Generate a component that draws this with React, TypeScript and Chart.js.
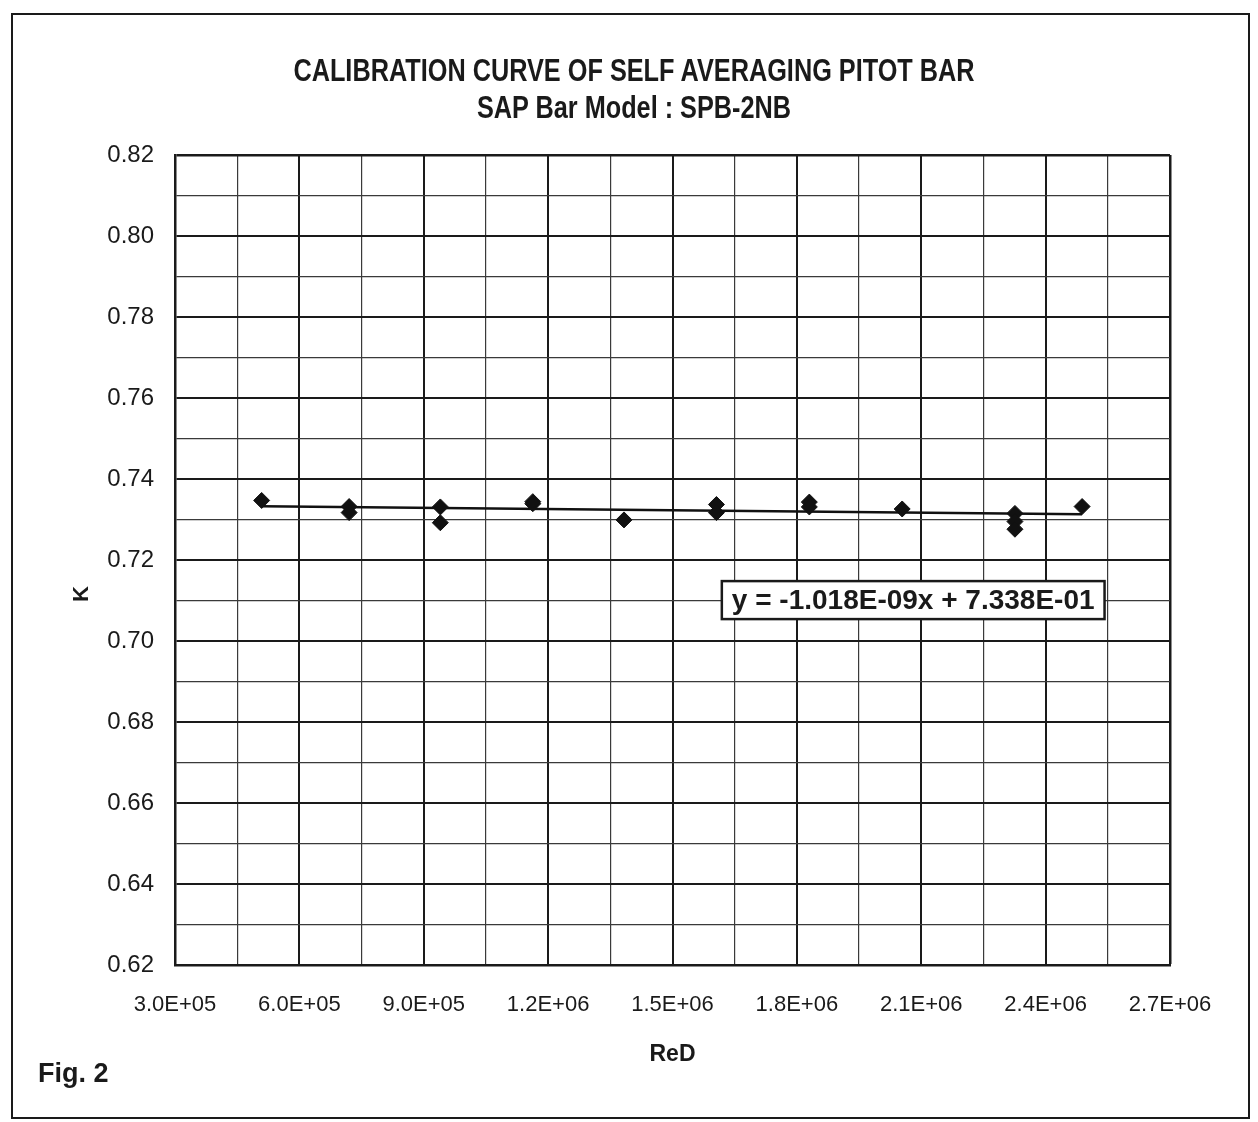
import React, { useEffect, useRef } from "react";
import { Chart, registerables } from "chart.js";

Chart.register(...registerables);

// ---- Data ----
const RED_VALUES = [
  5.09e5, 7.2e5, 7.2e5, 9.4e5, 9.4e5, 1.163e6, 1.163e6, 1.383e6, 1.606e6, 1.606e6,
  1.83e6, 1.83e6, 2.054e6, 2.326e6, 2.326e6, 2.326e6, 2.488e6,
];
const K_VALUES = [
  0.7347, 0.7332, 0.7317, 0.7331, 0.7292, 0.7344, 0.7339, 0.7299, 0.7337, 0.7317,
  0.7343, 0.7331, 0.7326, 0.7315, 0.7295, 0.7276, 0.7332,
];
const TREND_SLOPE = -1.018e-9;
const TREND_INTERCEPT = 0.7338;
const EQUATION_TEXT = "y = -1.018E-09x + 7.338E-01";

const TITLE_LINES = ["CALIBRATION CURVE OF SELF AVERAGING PITOT BAR", "SAP Bar Model : SPB-2NB"];
const X_TITLE = "ReD";
const Y_TITLE = "K";
const FIG_LABEL = "Fig. 2";

const X_MIN = 3.0e5;
const X_MAX = 2.7e6;
const X_STEP = 1.5e5;
const Y_MIN = 0.62;
const Y_MAX = 0.82;
const Y_STEP = 0.01;

// anchor (in data units) of the equation label box
const EQ_ANCHOR = { x: 1.619e6, y: 0.7101 };

const FONT = '"Liberation Sans", Arial, sans-serif';

function fmtExp(v: number): string {
  const [m, e] = v.toExponential(1).split("e");
  const sign = e[0] === "-" ? "-" : "+";
  const digits = e.replace(/[+-]/, "").padStart(2, "0");
  return `${m}E${sign}${digits}`;
}

const overlayPlugin = {
  id: "overlay",
  afterDatasetsDraw(chart: any) {
    const { ctx, scales, chartArea } = chart;
    const xs = scales.x;
    const ys = scales.y;
    // equation box
    ctx.save();
    ctx.font = `bold 28px ${FONT}`;
    const w = ctx.measureText(EQUATION_TEXT).width;
    const px = xs.getPixelForValue(EQ_ANCHOR.x);
    const py = ys.getPixelForValue(EQ_ANCHOR.y);
    const h = 38;
    const padX = 10;
    ctx.fillStyle = "#ffffff";
    ctx.fillRect(px, py - h / 2, w + padX * 2, h);
    ctx.lineWidth = 2.5;
    ctx.strokeStyle = "#1a1a1a";
    ctx.strokeRect(px, py - h / 2, w + padX * 2, h);
    ctx.fillStyle = "#1a1a1a";
    ctx.textBaseline = "middle";
    ctx.textAlign = "left";
    ctx.fillText(EQUATION_TEXT, px + padX, py + 1);
    ctx.restore();

    // y axis title
    ctx.save();
    ctx.font = `bold 22px ${FONT}`;
    ctx.fillStyle = "#1a1a1a";
    ctx.translate(82, (chartArea.top + chartArea.bottom) / 2 + 34);
    ctx.rotate(-Math.PI / 2);
    ctx.textAlign = "center";
    ctx.textBaseline = "middle";
    ctx.fillText(Y_TITLE, 0, 0);
    ctx.restore();
  },
};

const titleLineStyle = (top: number): React.CSSProperties => ({
  position: "absolute",
  left: 634,
  top,
  whiteSpace: "nowrap",
  fontFamily: FONT,
  fontWeight: "bold",
  fontSize: 32,
  lineHeight: "32px",
  color: "#1a1a1a",
  transform: "translateX(-50%) scaleX(0.79)",
});

export default function App() {
  const canvasRef = useRef<HTMLCanvasElement | null>(null);

  useEffect(() => {
    if (!canvasRef.current) return;
    const points = RED_VALUES.map((x, i) => ({ x, y: K_VALUES[i] }));
    const xLo = Math.min(...RED_VALUES);
    const xHi = Math.max(...RED_VALUES);
    const trend = [
      { x: xLo, y: TREND_SLOPE * xLo + TREND_INTERCEPT },
      { x: xHi, y: TREND_SLOPE * xHi + TREND_INTERCEPT },
    ];

    const chart = new Chart(canvasRef.current, {
      type: "scatter",
      data: {
        datasets: [
          {
            type: "line",
            label: "Trend",
            data: trend,
            borderColor: "#111",
            borderWidth: 2.5,
            pointRadius: 0,
            fill: false,
            order: 2,
          } as any,
          {
            label: "K",
            data: points,
            pointStyle: "rectRot",
            pointRadius: 8,
            pointBackgroundColor: "#111",
            pointBorderColor: "#111",
            pointBorderWidth: 1,
            showLine: false,
            order: 1,
          },
        ],
      },
      options: {
        responsive: false,
        animation: false,
        devicePixelRatio: 1,
        layout: { padding: { left: 0, right: 88, top: 155, bottom: 0 } },
        plugins: {
          legend: { display: false },
          tooltip: { enabled: false },
          title: { display: false },
        },
        scales: {
          x: {
            type: "linear",
            min: X_MIN,
            max: X_MAX,
            afterFit: (s: any) => {
              s.height = 157;
            },
            border: { display: true, color: "#1a1a1a", width: 2.5 },
            grid: {
              drawTicks: false,
              color: (c: any) => (c.index % 2 === 0 ? "#1a1a1a" : "#3a3a3a"),
              lineWidth: (c: any) => (c.index === 16 ? 2.5 : c.index % 2 === 0 ? 2 : 1.2),
            },
            ticks: {
              stepSize: X_STEP,
              autoSkip: false,
              maxRotation: 0,
              padding: 27,
              color: "#1a1a1a",
              font: { family: FONT, size: 22 },
              callback: (v: any, i: number) => (i % 2 === 0 ? fmtExp(Number(v)) : ""),
            },
            title: {
              display: true,
              text: X_TITLE,
              color: "#1a1a1a",
              font: { family: FONT, size: 23, weight: "bold" },
              padding: { top: 0, bottom: 54 },
            },
          },
          y: {
            type: "linear",
            min: Y_MIN,
            max: Y_MAX,
            afterFit: (s: any) => {
              s.width = 175;
            },
            border: { display: true, color: "#1a1a1a", width: 2.5 },
            grid: {
              drawTicks: false,
              color: (c: any) => (c.index % 2 === 0 ? "#1a1a1a" : "#3a3a3a"),
              lineWidth: (c: any) => (c.index === 20 ? 2.5 : c.index % 2 === 0 ? 2 : 1.2),
            },
            ticks: {
              stepSize: Y_STEP,
              autoSkip: false,
              padding: 21,
              color: "#1a1a1a",
              font: { family: FONT, size: 24 },
              callback: (v: any, i: number) => (i % 2 === 0 ? Number(v).toFixed(2) : ""),
            },
            title: { display: false },
          },
        },
      },
      plugins: [overlayPlugin],
    });
    return () => chart.destroy();
  }, []);

  return (
    <div style={{ position: "absolute", left: 0, top: 0, width: 1258, height: 1122, background: "#fff" }}>
      <canvas ref={canvasRef} width={1258} height={1122} style={{ position: "absolute", left: 0, top: 0 }} />
      <div style={titleLineStyle(54)}>{TITLE_LINES[0]}</div>
      <div style={titleLineStyle(91)}>{TITLE_LINES[1]}</div>
      <div
        style={{
          position: "absolute",
          left: 11,
          top: 13,
          width: 1239,
          height: 1106,
          border: "2px solid #1a1a1a",
          boxSizing: "border-box",
          pointerEvents: "none",
        }}
      />
      <div
        style={{
          position: "absolute",
          left: 38,
          top: 1060,
          fontFamily: FONT,
          fontWeight: "bold",
          fontSize: 27,
          lineHeight: "27px",
          color: "#1a1a1a",
        }}
      >
        {FIG_LABEL}
      </div>
    </div>
  );
}
